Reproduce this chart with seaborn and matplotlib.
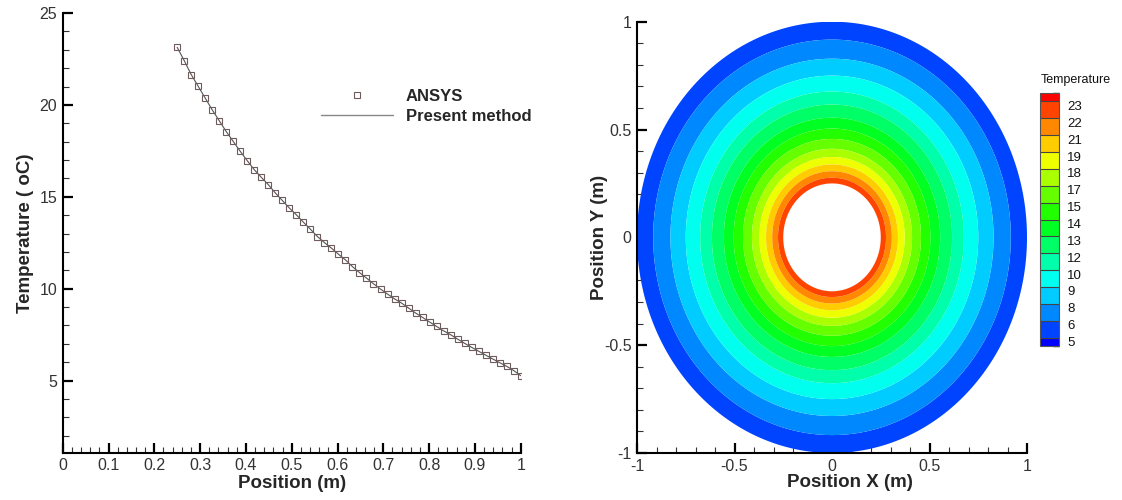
import numpy as np
import pandas as pd
import matplotlib
matplotlib.use("Agg")
import matplotlib.pyplot as plt
import seaborn as sns
from matplotlib.colors import ListedColormap, BoundaryNorm
from matplotlib.cm import ScalarMappable
from matplotlib.lines import Line2D
from matplotlib.ticker import MultipleLocator, FuncFormatter
from matplotlib.transforms import offset_copy

# ---------------- data ----------------
position = [0.25, 0.2653, 0.2806, 0.2959, 0.3112, 0.3265, 0.3418, 0.3571, 0.3724, 0.3878,
            0.4031, 0.4184, 0.4337, 0.4490, 0.4643, 0.4796, 0.4949, 0.5102, 0.5255, 0.5408,
            0.5561, 0.5714, 0.5867, 0.6020, 0.6173, 0.6327, 0.6480, 0.6633, 0.6786, 0.6939,
            0.7092, 0.7245, 0.7398, 0.7551, 0.7704, 0.7857, 0.8010, 0.8163, 0.8316, 0.8469,
            0.8622, 0.8776, 0.8929, 0.9082, 0.9235, 0.9388, 0.9541, 0.9694, 0.9847, 1.0]
temperature = [23.13, 22.41, 21.65, 21.01, 20.37, 19.73, 19.14, 18.55, 18.01, 17.47,
               16.96, 16.47, 16.06, 15.66, 15.21, 14.80, 14.39, 14.02, 13.62, 13.24,
               12.84, 12.51, 12.21, 11.88, 11.57, 11.20, 10.88, 10.58, 10.27, 9.98,
               9.71, 9.45, 9.22, 8.95, 8.68, 8.44, 8.19, 7.95, 7.71, 7.50,
               7.26, 7.03, 6.81, 6.60, 6.39, 6.18, 5.98, 5.78, 5.55, 5.27]
series_names = ["ANSYS", "Present method"]
contour_levels = [5.20, 6.48, 7.76, 9.04, 10.32, 11.60, 12.88, 14.16, 15.44, 16.72,
                  18.00, 19.28, 20.56, 21.84, 23.12]
level_labels = ["5", "6", "8", "9", "10", "12", "13", "14", "15", "17",
                "18", "19", "21", "22", "23"]
x_ticks_left = [0, 0.1, 0.2, 0.3, 0.4, 0.5, 0.6, 0.7, 0.8, 0.9, 1]
y_ticks_left = [5, 10, 15, 20, 25]
ticks_right = [-1, -0.5, 0, 0.5, 1]

# ---------------- style ----------------
sns.set_theme(style="white")
plt.rcParams["font.family"] = ["Liberation Sans", "DejaVu Sans"]
plt.rcParams["axes.linewidth"] = 1.5
plt.rcParams["xtick.direction"] = "in"
plt.rcParams["ytick.direction"] = "in"

# Tecplot "small rainbow" style palette: 16 bands blue -> red
palette = [matplotlib.colors.hsv_to_rgb((h / 360.0, 1.0, 1.0))
           for h in np.linspace(240, 0, 16)]

fig = plt.figure(figsize=(11.22, 5.0), dpi=100)
W, H = 1122.0, 500.0

def add_ax(x0, y0, x1, y1):
    return fig.add_axes([x0 / W, 1 - y1 / H, (x1 - x0) / W, (y1 - y0) / H])

tick_color = "#333333"

def style_axes(ax):
    for s in ["top", "right"]:
        ax.spines[s].set_visible(False)
    for s in ["left", "bottom"]:
        ax.spines[s].set_color("black")
        ax.spines[s].set_linewidth(1.5)
    ax.tick_params(which="major", direction="in", length=7, width=1.6,
                   color="black", labelsize=11.5, labelcolor=tick_color, pad=4,
                   left=True, bottom=True)
    ax.tick_params(which="minor", direction="in", length=4, width=0.8,
                   color="#333333", left=True, bottom=True)

fmt = FuncFormatter(lambda v, p: f"{v:g}")
label_font = {"fontsize": 13.5, "fontweight": "bold"}

# ---------------- left: line plot ----------------
ax1 = add_ax(62.7, 13.0, 520.7, 452.7)
df = pd.DataFrame({"Position": position, "Temperature": temperature})
sns.lineplot(data=df, x="Position", y="Temperature", ax=ax1, color="#555555",
             lw=0.8, sort=False, estimator=None, zorder=2)
sns.lineplot(data=df, x="Position", y="Temperature", ax=ax1, linestyle="none",
             marker="s", markersize=4.5, markerfacecolor="none",
             markeredgecolor="#6e5c5c", markeredgewidth=0.8, sort=False,
             estimator=None, zorder=3)
ax1.set_xlim(0, 1)
ax1.set_ylim(1.08, 25)
ax1.set_xticks(x_ticks_left)
ax1.set_yticks(y_ticks_left)
ax1.xaxis.set_minor_locator(MultipleLocator(0.02))
ax1.yaxis.set_minor_locator(MultipleLocator(1))
ax1.xaxis.set_major_formatter(fmt)
ax1.yaxis.set_major_formatter(fmt)
style_axes(ax1)
ax1.set_xlabel("Position (m)", labelpad=1, **label_font)
ax1.set_ylabel("Temperature ( oC)", labelpad=4, **label_font)

handles = [Line2D([], [], linestyle="none", marker="s", markersize=4.5,
                  markerfacecolor="none", markeredgecolor="#6e5c5c", markeredgewidth=0.8),
           Line2D([], [], color="#888888", lw=1.0)]
leg = ax1.legend(handles, series_names, loc="upper left",
                 bbox_to_anchor=(321 / W, 1 - 89 / H), bbox_transform=fig.transFigure,
                 frameon=False, borderpad=0, borderaxespad=0, handlelength=4.3,
                 handletextpad=0.8, labelspacing=0.28,
                 prop={"weight": "bold", "size": 12})

# ---------------- right: contour ----------------
ax2 = add_ax(637, 21.7, 1027, 453)
r = np.asarray(position)
theta = np.linspace(0, 2 * np.pi, 361)
R, TH = np.meshgrid(r, theta)
X = R * np.cos(TH)
Y = R * np.sin(TH)
Z = np.broadcast_to(np.asarray(temperature), R.shape)
ax2.contourf(X, Y, Z, levels=contour_levels, colors=palette, extend="both",
             antialiased=True)
ax2.set_xlim(-1, 1)
ax2.set_ylim(-1, 1)
ax2.set_xticks(ticks_right)
ax2.set_yticks(ticks_right)
ax2.xaxis.set_minor_locator(MultipleLocator(0.1))
ax2.yaxis.set_minor_locator(MultipleLocator(0.1))
ax2.xaxis.set_major_formatter(fmt)
ax2.yaxis.set_major_formatter(fmt)
style_axes(ax2)
ax2.set_xlabel("Position X (m)", **label_font)
ax2.xaxis.set_label_coords((850 - 637) / 390.0, (453 - 474) / 431.3)
ax2.set_ylabel("Position Y (m)", labelpad=-3, **label_font)

# ---------------- legend (Tecplot-like colour bar) ----------------
step = contour_levels[1] - contour_levels[0]
bounds = [contour_levels[0] - step / 2] + contour_levels + [contour_levels[-1] + step / 2]
cmap = ListedColormap(palette)
norm = BoundaryNorm(bounds, cmap.N)
cax = add_ax(1040, 93, 1059, 346)
sm = ScalarMappable(norm=norm, cmap=cmap)
cb = fig.colorbar(sm, cax=cax, spacing="proportional", drawedges=True)
cb.set_ticks(contour_levels)
cb.set_ticklabels(level_labels)
cb.outline.set_edgecolor("#555555")
cb.outline.set_linewidth(0.8)
cb.dividers.set_color("#444444")
cb.dividers.set_linewidth(0.8)
cax.tick_params(length=0, labelsize=9.5, pad=6, labelcolor="#111111")
for lbl in cax.get_yticklabels():
    lbl.set_transform(offset_copy(lbl.get_transform(), fig=fig, x=0, y=-4, units="dots"))
fig.text(1041 / W, 1 - 80 / H, "Temperature", fontsize=9, color="#111111",
         ha="left", va="center")

fig.savefig("out.png", dpi=100)
